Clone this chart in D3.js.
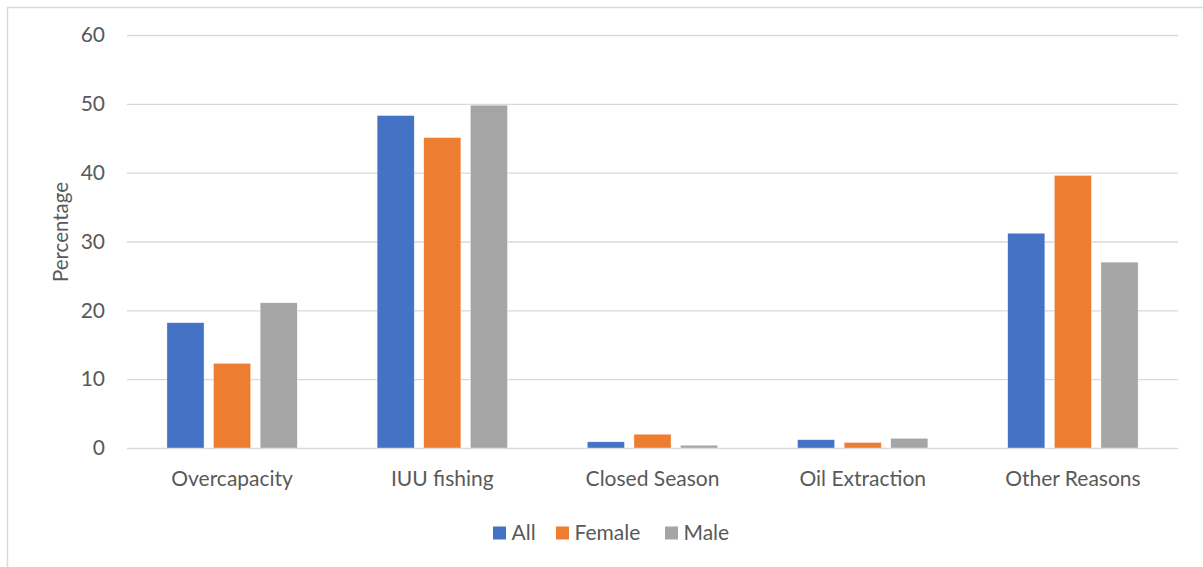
<!DOCTYPE html>
<html>
<head>
<meta charset="utf-8">
<script src="https://cdn.jsdelivr.net/npm/d3@7"></script>
<style>
  html, body { margin: 0; padding: 0; background: #fff; }
  svg { display: block; }
  text { font-family: Lato, "Open Sans", sans-serif; fill: #595959; }
</style>
</head>
<body>
<svg id="chart" width="1203" height="567"></svg>
<script>
// Reasons given, by respondent group (percent)
const categories = ["Overcapacity", "IUU fishing", "Closed Season", "Oil Extraction", "Other Reasons"];
const seriesNames = ["All", "Female", "Male"];
const allValues    = [18.2, 48.3, 0.9, 1.2, 31.2];
const femaleValues = [12.3, 45.1, 2.0, 0.8, 39.6];
const maleValues   = [21.1, 49.8, 0.4, 1.4, 27.0];
const yTicks = [0, 10, 20, 30, 40, 50, 60];
const colors = ["#4472C4", "#ED7D31", "#A5A5A5"];

const seriesValues = [allValues, femaleValues, maleValues];
const FONT = "Lato, 'Open Sans', sans-serif";

const svg = d3.select("#chart");

// chart frame
svg.append("rect")
  .attr("x", 7.5).attr("y", 7.5)
  .attr("width", 1220).attr("height", 600)
  .attr("fill", "none").attr("stroke", "#d9d9d9").attr("stroke-width", 1.5);

const plot = { left: 127, right: 1178, top: 35, bottom: 448 };

const y = d3.scaleLinear().domain([0, 60]).range([plot.bottom, plot.top]);
const x0 = d3.scaleBand().domain(categories)
  .range([plot.left, plot.right]).paddingInner(0.38).paddingOuter(0.19);
const x1 = d3.scaleBand().domain(seriesNames)
  .range([0, x0.bandwidth()]).paddingInner(0.204).paddingOuter(0);
const color = d3.scaleOrdinal().domain(seriesNames).range(colors);

// gridlines + y tick labels
const yAxis = d3.axisLeft(y).tickValues(yTicks)
  .tickSize(-(plot.right - plot.left)).tickPadding(22);
const gy = svg.append("g").attr("transform", `translate(${plot.left},0)`).call(yAxis);
gy.select(".domain").remove();
gy.selectAll(".tick line").attr("stroke", "#d9d9d9").attr("stroke-width", 1.4);
gy.selectAll(".tick text")
  .attr("font-size", 21).attr("fill", "#595959")
  .style("font-family", FONT);

// bars
const groups = svg.append("g").selectAll("g")
  .data(categories)
  .join("g")
  .attr("transform", d => `translate(${x0(d)},0)`);

groups.selectAll("rect")
  .data((c, i) => seriesNames.map((s, k) => ({ series: s, value: seriesValues[k][i] })))
  .join("rect")
  .attr("x", d => x1(d.series))
  .attr("width", x1.bandwidth())
  .attr("y", d => y(d.value))
  .attr("height", d => y(0) - y(d.value))
  .attr("fill", d => color(d.series))
  .attr("stroke", "#ffffff").attr("stroke-width", 0.6).attr("stroke-opacity", 0.6);

// category axis labels
const xAxis = d3.axisBottom(x0).tickSize(0).tickPadding(23);
const gx = svg.append("g").attr("transform", `translate(0,${plot.bottom})`).call(xAxis);
gx.select(".domain").remove();
gx.selectAll(".tick text")
  .attr("font-size", 21).attr("fill", "#595959")
  .style("font-family", FONT);

// y-axis title
svg.append("text")
  .attr("transform", `translate(68,232) rotate(-90)`)
  .attr("text-anchor", "middle")
  .attr("font-size", 20.5)
  .text("Percentage");

// legend
const legendItems = [
  { name: "All", x: 493 },
  { name: "Female", x: 556 },
  { name: "Male", x: 665 }
];
const legend = svg.append("g");
legendItems.forEach(item => {
  legend.append("rect")
    .attr("x", item.x).attr("y", 526.5)
    .attr("width", 13).attr("height", 13)
    .attr("fill", color(item.name));
  legend.append("text")
    .attr("x", item.x + 18.5).attr("y", 539.5)
    .attr("font-size", 21)
    .text(item.name);
});
</script>
</body>
</html>
